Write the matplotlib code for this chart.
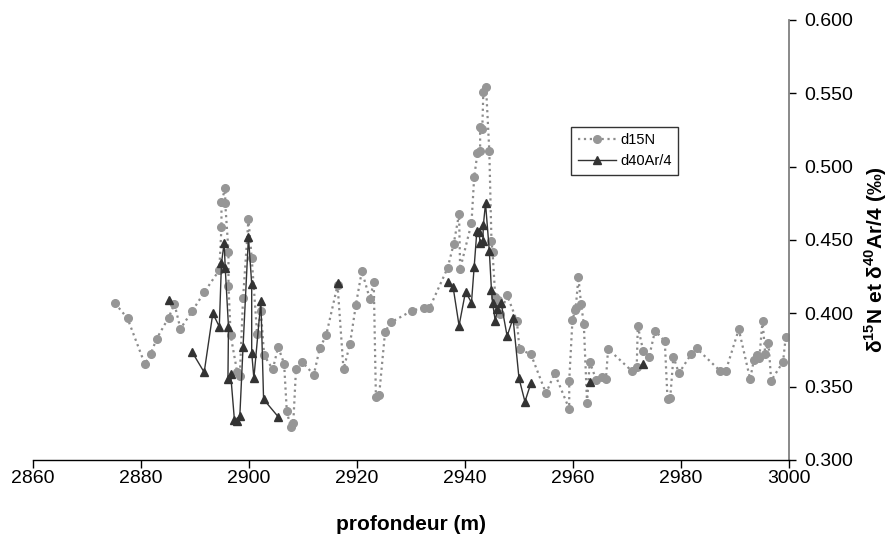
import matplotlib
matplotlib.use("Agg")
import matplotlib.pyplot as plt
import numpy as np

nan = np.nan

# d15N (gray circles, dotted line)
depth_n = [2875.2, 2877.5, 2880.7, 2881.8, 2882.9, 2885.1, 2886.2, 2887.3, 2889.5, 2891.7,
           2894.5, 2894.9, 2894.9, 2895.6, 2895.6, 2896.2, 2896.2, 2896.6, 2897.8, 2898.3,
           2898.9, 2899.9, 2900.5, 2901.5, 2902.2, 2902.8, 2904.4, 2905.4, 2906.5, 2907.0,
           2907.7, 2908.2, 2908.7, 2909.9, 2912.0, 2913.1, 2914.3, 2916.4, 2917.5, 2918.7,
           2919.8, 2920.9, 2922.4, 2923.1, 2923.5, 2924.1, 2925.2, 2926.3, 2930.2, 2932.4,
           2933.4, 2936.8, 2937.9, 2938.9, 2939.1, 2941.2, 2941.7, 2942.3, 2942.8, 2942.8,
           2943.2, 2943.4, 2943.9, 2944.5, 2944.9, 2945.1, 2945.6, 2946.2, 2946.5, 2947.8,
           2949.6, 2950.1, 2952.2, 2955.0, 2956.6, 2959.3, 2959.3, 2959.9, 2960.4, 2960.5,
           2961.0, 2961.5, 2962.0, 2962.6, 2963.1, 2964.3, 2965.4, 2966.1, 2966.5, 2970.9,
           2971.8, 2972.0, 2973.0, 2974.1, 2975.2, 2977.0, 2977.5, 2978.0, 2978.6, 2979.6,
           2981.9, 2982.9, 2987.2, 2988.3, 2990.7, 2992.8, 2993.5, 2994.0, 2994.5, 2995.1,
           2995.6, 2996.2, 2996.7, 2998.9, 2999.4]
d15n = [0.4068, 0.3966, 0.3655, 0.3723, 0.3827, 0.397, 0.4064, 0.3895, 0.4016, 0.4143,
        0.4295, 0.4587, 0.4757, 0.4857, 0.475, 0.442, 0.4189, 0.385, 0.3602, 0.3573,
        0.4102, 0.4643, 0.4377, 0.3861, 0.4016, 0.3714, 0.3618, 0.377, 0.3657, 0.3334,
        0.3223, 0.3254, 0.3618, 0.3666, 0.3582, 0.3761, 0.3852, 0.4193, 0.3618, 0.3791,
        0.4059, 0.4289, 0.4095, 0.4216, 0.3432, 0.3443, 0.3875, 0.3939, 0.4018, 0.4039,
        0.4034, 0.4311, 0.4473, 0.4677, 0.4302, 0.4614, 0.4928, 0.5091, 0.5109, 0.5273,
        0.5257, 0.5511, 0.5541, 0.5109, 0.4493, 0.442, 0.4113, 0.4091, 0.3993, 0.4123,
        0.395, 0.3755, 0.3721, 0.3455, 0.3591, 0.3348, 0.3541, 0.3955, 0.4023, 0.4034,
        0.4246, 0.4061, 0.3929, 0.3391, 0.367, 0.3545, 0.3568, 0.3552, 0.3757, 0.3607,
        0.3632, 0.3914, 0.3743, 0.3705, 0.3882, 0.3809, 0.3416, 0.3421, 0.3705, 0.3591,
        0.3723, 0.3761, 0.3609, 0.3609, 0.3891, 0.3552, 0.3682, 0.3716, 0.3693, 0.395,
        0.3721, 0.380, 0.3541, 0.367, 0.3841]

# d40Ar/4 (dark triangles, solid line) - nan marks a break in the line
depth_ar = [2885.1, nan, 2889.5, 2891.7, 2893.3, 2894.5, 2894.9, 2895.4, 2895.6, 2896.2,
            2896.1, 2896.6, 2897.3, 2897.8, 2898.3, 2898.9, 2899.9, 2900.5, 2900.5, 2900.9,
            2902.2, 2902.7, 2905.4, nan, 2916.4, nan, 2936.9, 2937.8, 2938.9, 2940.1,
            2941.2, 2941.7, 2942.2, 2942.6, 2942.8, 2943.3, 2943.4, 2943.8, 2944.5, 2944.9,
            2945.1, 2945.6, 2946.0, 2946.7, 2947.8, 2948.9, 2950.0, 2951.1, 2952.2, nan,
            2963.1, nan, 2973.0]
d40ar = [0.4093, nan, 0.3734, 0.3598, 0.400, 0.3909, 0.4341, 0.4482, 0.4308, 0.3909,
         0.355, 0.3586, 0.3273, 0.3268, 0.330, 0.3773, 0.4523, 0.420, 0.3732, 0.3557,
         0.4084, 0.3414, 0.3295, nan, 0.4209, nan, 0.4216, 0.4178, 0.3916, 0.4148,
         0.4073, 0.4318, 0.4563, 0.4557, 0.4477, 0.4495, 0.4602, 0.475, 0.4427, 0.4159,
         0.4073, 0.395, 0.4027, 0.4068, 0.3845, 0.3966, 0.3557, 0.3398, 0.3523, nan,
         0.353, nan, 0.3652]

x_ticks = [2860, 2880, 2900, 2920, 2940, 2960, 2980, 3000]
y_ticks = [0.300, 0.350, 0.400, 0.450, 0.500, 0.550, 0.600]

plt.rcParams['font.family'] = ['Liberation Sans', 'DejaVu Sans']
plt.rcParams['mathtext.fontset'] = 'custom'
plt.rcParams['mathtext.rm'] = 'Liberation Sans'
plt.rcParams['mathtext.bf'] = 'Liberation Sans:bold'

fig = plt.figure(figsize=(8.92, 5.35), dpi=100)
ax = fig.add_axes([33 / 892, 75 / 535, 756 / 892, 440 / 535])

ax.plot(depth_n, d15n, linestyle=':', color='#8c8c8c', linewidth=1.6,
        marker='o', markersize=5.5, markerfacecolor='#969696', markeredgecolor='#969696',
        label='d15N')
ax.plot(depth_ar, d40ar, linestyle='-', color='#333333', linewidth=1.0,
        marker='^', markersize=6, markerfacecolor='#333333', markeredgecolor='#333333',
        label='d40Ar/4')

ax.set_xlim(2860, 3000)
ax.set_ylim(0.300, 0.600)
ax.set_xticks(x_ticks)
ax.set_yticks(y_ticks)
ax.set_yticklabels(['%.3f' % v for v in y_ticks])

ax.spines['top'].set_visible(False)
ax.spines['left'].set_visible(False)
ax.spines['bottom'].set_color('black')
ax.spines['right'].set_color('#808080')
ax.spines['bottom'].set_linewidth(1.0)
ax.spines['right'].set_linewidth(1.3)
ax.yaxis.tick_right()
ax.tick_params(axis='x', direction='out', length=6, width=1, colors='black', labelsize=14, pad=1.5)
ax.tick_params(axis='y', direction='out', length=5, width=1, colors='black', labelsize=14, pad=6)

ax.set_xlabel('profondeur (m)', fontsize=15, fontweight='bold', labelpad=20)
fig.text(876 / 892, 1 - 260 / 535, r'δ$^{\mathbf{15}}$N et δ$^{\mathbf{40}}$Ar/4 (‰)',
         fontsize=15, fontweight='bold', rotation=90, ha='center', va='center')

leg = ax.legend(loc='upper left', bbox_to_anchor=(0.712, 0.757), fontsize=10.5,
                frameon=True, fancybox=False, edgecolor='black', handlelength=2.6,
                borderpad=0.45, labelspacing=0.45, handletextpad=0.3, borderaxespad=0)
leg.get_frame().set_linewidth(1.0)

fig.savefig('out.png', dpi=100)
